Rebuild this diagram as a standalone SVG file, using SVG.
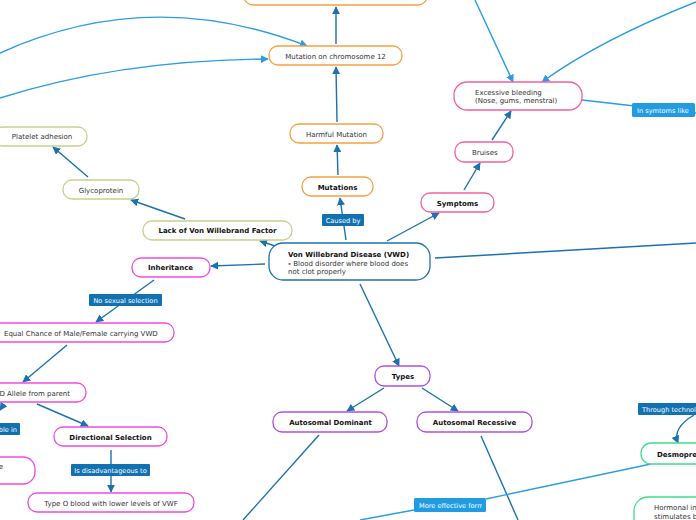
<svg xmlns="http://www.w3.org/2000/svg" width="696" height="520" viewBox="0 0 696 520">
<style>
.n{fill:#fff;stroke-width:1.3}
.or{stroke:#f5a043}
.gy{stroke:#c9cf8e}
.mg{stroke:#f04be0}
.pk{stroke:#f2609e}
.pu{stroke:#b150e0}
.gr{stroke:#3ede8c}
.bl{stroke:#1b72ae}
.t{font-family:"DejaVu Sans",Verdana,sans-serif;font-size:7px;fill:#333}
.b{font-weight:bold;fill:#111}
.c{text-anchor:middle}
.l{font-family:"DejaVu Sans",Verdana,sans-serif;font-size:6.6px;fill:#fff}
.lb{fill:#1272b1}
.ll{fill:#219ce2}
.e{fill:none;stroke:#1a72b0;stroke-width:1.4}
.e2{fill:none;stroke:#2b9de2;stroke-width:1.4}
</style>
<defs>
<marker id="a" viewBox="0 0 10 10" refX="9" refY="5" markerWidth="8" markerHeight="8" orient="auto" markerUnits="userSpaceOnUse"><path d="M0,0L10,5L0,10z" fill="#1a72b0"/></marker>
<marker id="a2" viewBox="0 0 10 10" refX="9" refY="5" markerWidth="8" markerHeight="8" orient="auto" markerUnits="userSpaceOnUse"><path d="M0,0L10,5L0,10z" fill="#2b9de2"/></marker>
<clipPath id="cl"><rect x="414" y="498" width="68" height="14"/></clipPath>
</defs>
<g id="connectors">
<path class="e" d="M336,44L336,7" marker-end="url(#a)"/>
<path class="e" d="M337,122L336,67" marker-end="url(#a)"/>
<path class="e" d="M338,175L337,145" marker-end="url(#a)"/>
<path class="e" d="M346,240L340,198" marker-end="url(#a)"/>
<path class="e" d="M275,246L260,241" marker-end="url(#a)"/>
<path class="e" d="M185,219L131,200" marker-end="url(#a)"/>
<path class="e" d="M88,177L53,147" marker-end="url(#a)"/>
<path class="e" d="M265,264L211,266" marker-end="url(#a)"/>
<path class="e" d="M154,280L96,322" marker-end="url(#a)"/>
<path class="e" d="M67,345L23,382" marker-end="url(#a)"/>
<path class="e" d="M37,404L88,426" marker-end="url(#a)"/>
<path class="e" d="M4,404L0,410" marker-end="url(#a)"/>
<path class="e" d="M111,450L111,492" marker-end="url(#a)"/>
<path class="e" d="M387,241L439,213" marker-end="url(#a)"/>
<path class="e" d="M464,190L480,163" marker-end="url(#a)"/>
<path class="e" d="M492,140L511,111" marker-end="url(#a)"/>
<path class="e2" d="M475,0L513,82" marker-end="url(#a2)"/>
<path class="e2" d="M696,2Q600,40 542,82" marker-end="url(#a2)"/>
<path class="e2" d="M0,53Q150,-15 307,46" marker-end="url(#a2)"/>
<path class="e2" d="M0,98Q120,60 268,59" marker-end="url(#a2)"/>
<path class="e2" d="M582,100L696,113"/>
<path class="e" d="M435,258L696,243"/>
<path class="e" d="M360,284L399,366" marker-end="url(#a)"/>
<path class="e" d="M384,388L347,411" marker-end="url(#a)"/>
<path class="e" d="M422,388L458,411" marker-end="url(#a)"/>
<path class="e" d="M319,435L243,520"/>
<path class="e" d="M481,436L518,520"/>
<path class="e2" d="M651,464L486,499"/>
<path class="e2" d="M414,510L360,520"/>
<path class="e" d="M694,415Q672,428 678,443" marker-end="url(#a)"/>
</g>
<g id="n-top"><rect class="n or" x="244" y="-15" width="183" height="20" rx="9"/></g>
<g id="n-chr12"><rect class="n or" x="269" y="46" width="133" height="19" rx="9"/><text class="t c" x="335.5" y="58.5">Mutation on chromosome 12</text></g>
<g id="n-harmful"><rect class="n or" x="290" y="124" width="93" height="19" rx="9"/><text class="t c" x="336.5" y="136.5">Harmful Mutation</text></g>
<g id="n-mutations"><rect class="n or" x="302" y="177" width="71" height="19" rx="9"/><text class="t b c" x="337.5" y="189.5">Mutations</text></g>
<g id="l-caused"><rect class="lb" x="322" y="214" width="42" height="12" rx="1"/><text class="l c" x="343" y="222.5">Caused by</text></g>
<g id="n-main"><rect class="n bl" x="269" y="243" width="161" height="37" rx="14"/><text class="t b" x="288" y="256.5">Von Willebrand Disease (VWD)</text><text class="t" x="288" y="265.5"><tspan class="b">-</tspan> Blood disorder where blood does</text><text class="t" x="288" y="273.5">not clot properly</text></g>
<g id="n-lack"><rect class="n gy" x="143" y="221" width="149" height="19" rx="9"/><text class="t b c" x="217.5" y="233">Lack of Von Willebrand Factor</text></g>
<g id="n-glyco"><rect class="n gy" x="63" y="180" width="76" height="19" rx="9"/><text class="t c" x="101" y="192.5">Glycoprotein</text></g>
<g id="n-platelet"><rect class="n gy" x="-6" y="127" width="93" height="19" rx="9"/><text class="t c" x="42" y="139">Platelet adhesion</text></g>
<g id="n-inherit"><rect class="n mg" x="132" y="258" width="78" height="19" rx="9"/><text class="t b c" x="170.5" y="270">Inheritance</text></g>
<g id="l-nosex"><rect class="lb" x="89" y="294" width="73" height="12" rx="1"/><text class="l c" x="125.5" y="302.5">No sexual selection</text></g>
<g id="n-equal"><rect class="n mg" x="-12" y="323" width="186" height="19" rx="9"/><text class="t" x="4" y="335.5">Equal Chance of Male/Female carrying VWD</text></g>
<g id="n-allele"><rect class="n mg" x="-40" y="383" width="126" height="19" rx="9"/><text class="t" x="70" y="395.5" text-anchor="end">VWD Allele from parent</text></g>
<g id="l-ble"><rect class="lb" x="-40" y="423" width="60" height="12" rx="1"/><text class="l" x="17" y="431.5" text-anchor="end">Favorable in</text></g>
<g id="n-left"><rect class="n mg" x="-70" y="457" width="105" height="27" rx="12"/><text class="t" x="3" y="469" text-anchor="end">Advantage</text></g>
<g id="n-direct"><rect class="n mg" x="54" y="427" width="113" height="19" rx="9"/><text class="t b c" x="110.5" y="439.5">Directional Selection</text></g>
<g id="l-disadv"><rect class="lb" x="71" y="464" width="79" height="12" rx="1"/><text class="l c" x="110.5" y="472.5">Is disadvantageous to</text></g>
<g id="n-typeo"><rect class="n mg" x="28" y="493" width="166" height="19" rx="9"/><text class="t c" x="111" y="505.5">Type O blood with lower levels of VWF</text></g>
<g id="n-symptoms"><rect class="n pk" x="421" y="193" width="73" height="19" rx="9"/><text class="t b c" x="457.5" y="205.5">Symptoms</text></g>
<g id="n-bruises"><rect class="n pk" x="455" y="142" width="58" height="20" rx="9"/><text class="t" x="472" y="155">Bruises</text></g>
<g id="n-bleed"><rect class="n pk" x="454" y="82" width="128" height="28" rx="13"/><text class="t" x="475" y="94.5">Excessive bleeding</text><text class="t" x="475" y="102.5">(Nose, gums, menstral)</text></g>
<g id="l-symtoms"><rect class="ll" x="632" y="103" width="63" height="14" rx="1.5"/><text class="l" x="637" y="112.5">In symtoms like</text></g>
<g id="n-types"><rect class="n pu" x="375" y="366" width="55" height="20" rx="9"/><text class="t b c" x="403" y="379">Types</text></g>
<g id="n-dom"><rect class="n pu" x="273" y="412" width="114" height="20" rx="9"/><text class="t b c" x="330.5" y="425">Autosomal Dominant</text></g>
<g id="n-rec"><rect class="n pu" x="417" y="412" width="115" height="20" rx="9"/><text class="t b c" x="474.5" y="425">Autosomal Recessive</text></g>
<g id="l-tech"><rect class="lb" x="638" y="403" width="70" height="12" rx="1"/><text class="l" x="642" y="411.5">Through technology</text></g>
<g id="n-desmo"><rect class="n gr" x="641" y="443" width="80" height="21" rx="10"/><text class="t b" x="657" y="457">Desmopressin</text></g>
<g id="n-hormonal"><rect class="n gr" x="634" y="497" width="90" height="40" rx="14"/><text class="t" x="654" y="510">Hormonal injection</text><text class="t" x="654" y="519">stimulates body</text></g>
<g id="l-effective"><rect class="ll" x="414" y="498" width="72" height="14" rx="1.5"/><text class="l" x="419" y="507.5" clip-path="url(#cl)">More effective form</text></g>
</svg>
